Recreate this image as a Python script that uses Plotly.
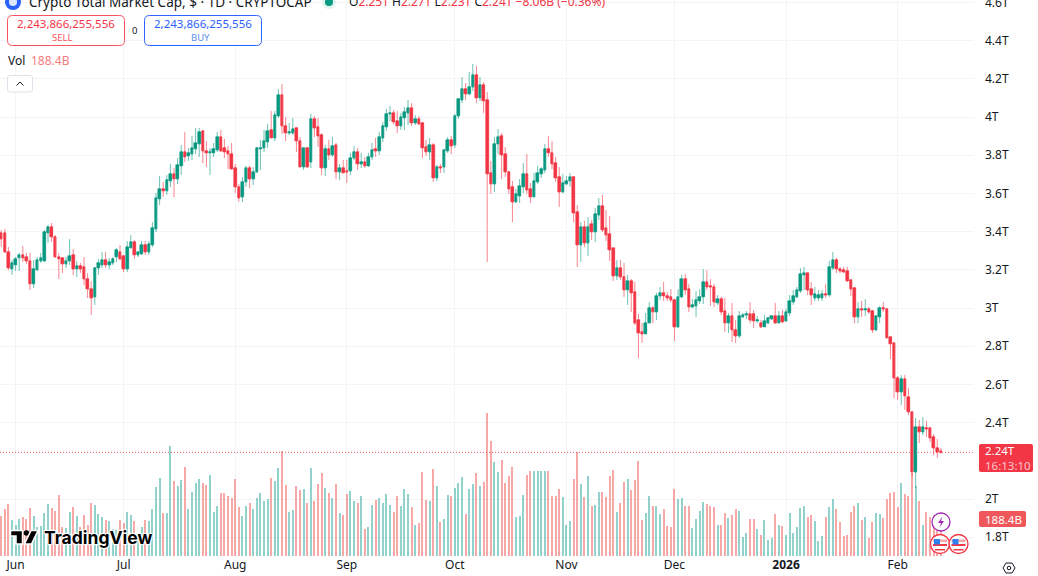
import pandas as pd
import plotly.graph_objects as go

START_DATE = "2025-05-28"

OPEN = [
3.393,3.393,3.293,3.204,3.225,3.262,3.278,3.267,3.246,3.126,
3.199,3.246,3.246,3.393,3.424,3.372,3.267,3.262,3.230,3.246,
3.278,3.204,3.220,3.215,3.152,3.099,3.058,3.209,3.225,3.251,
3.225,3.236,3.267,3.293,3.272,3.204,3.314,3.346,3.278,3.283,
3.330,3.293,3.330,3.414,3.571,3.623,3.613,3.665,3.702,3.675,
3.744,3.817,3.796,3.806,3.833,3.859,3.927,3.822,3.812,3.812,
3.827,3.895,3.838,3.822,3.806,3.733,3.634,3.581,3.660,3.733,
3.675,3.712,3.833,3.838,3.869,3.932,3.890,4.005,4.115,3.953,
3.916,3.916,3.942,3.874,3.738,3.838,3.764,3.990,3.948,3.906,
3.733,3.833,3.801,3.853,3.712,3.733,3.717,3.717,3.785,3.817,
3.754,3.764,3.744,3.791,3.833,3.822,3.890,3.948,4.016,4.021,
3.979,3.953,3.995,4.021,4.047,3.969,3.990,3.969,3.843,3.817,
3.853,3.681,3.738,3.738,3.822,3.880,3.853,4.005,4.089,4.147,
4.120,4.157,4.220,4.100,4.168,4.089,3.707,3.649,3.859,3.901,
3.806,3.712,3.634,3.555,3.586,3.634,3.702,3.623,3.581,3.660,
3.702,3.723,3.833,3.812,3.759,3.686,3.607,3.649,3.665,3.686,
3.503,3.330,3.424,3.340,3.440,3.398,3.487,3.534,3.419,3.387,
3.314,3.168,3.209,3.162,3.094,3.141,3.084,2.937,2.874,2.864,
2.921,3.000,2.979,3.063,3.079,3.063,3.058,3.042,2.901,3.058,
3.152,3.099,3.005,3.010,3.037,3.058,3.136,3.115,3.110,3.026,
3.047,2.984,2.921,2.958,2.885,2.853,2.953,2.963,2.969,2.969,
2.932,2.921,2.901,2.921,2.942,2.958,2.921,2.958,2.932,2.974,
3.031,3.058,3.089,3.173,3.183,3.099,3.052,3.052,3.052,3.073,
3.068,3.209,3.251,3.204,3.199,3.194,3.147,3.105,2.953,2.995,
2.990,2.995,2.984,2.885,2.953,3.000,2.995,2.848,2.817,2.633,
2.560,2.628,2.534,2.455,2.141,2.377,2.351,2.372,2.372,2.325,
2.267,2.251]

HIGH = [
3.408,3.414,3.319,3.251,3.267,3.288,3.325,3.288,3.288,3.251,
3.267,3.288,3.408,3.435,3.445,3.382,3.288,3.267,3.267,3.361,
3.309,3.246,3.236,3.267,3.183,3.141,3.215,3.257,3.293,3.293,
3.262,3.267,3.314,3.330,3.278,3.351,3.382,3.356,3.298,3.351,
3.351,3.351,3.450,3.602,3.691,3.660,3.696,3.754,3.733,3.785,
3.853,3.922,3.838,3.901,3.942,3.942,3.932,3.874,3.838,3.864,
3.922,3.932,3.885,3.848,3.864,3.754,3.649,3.686,3.744,3.744,
3.738,3.843,3.880,3.932,3.963,4.031,4.031,4.147,4.173,4.000,
3.969,3.995,3.948,3.895,3.838,3.843,4.016,4.005,3.995,3.916,
3.853,3.880,3.895,3.864,3.754,3.775,3.775,3.812,3.848,3.838,
3.812,3.791,3.812,3.864,3.890,3.922,3.974,4.042,4.058,4.037,
4.031,4.021,4.052,4.089,4.073,4.010,4.005,3.974,3.880,3.890,
3.864,3.749,3.754,3.833,3.895,3.901,4.016,4.100,4.209,4.178,
4.236,4.278,4.267,4.209,4.183,4.131,3.770,3.895,3.937,3.916,
3.843,3.717,3.665,3.623,3.675,3.759,3.806,3.655,3.707,3.744,
3.738,3.859,3.901,3.874,3.791,3.738,3.702,3.691,3.707,3.691,
3.539,3.450,3.456,3.476,3.461,3.524,3.576,3.592,3.513,3.482,
3.314,3.251,3.251,3.236,3.173,3.152,3.136,2.969,2.921,2.974,
3.031,3.010,3.079,3.110,3.136,3.084,3.099,3.047,3.099,3.173,
3.178,3.126,3.047,3.089,3.099,3.204,3.199,3.152,3.126,3.068,
3.058,3.052,2.974,3.026,2.937,2.984,2.974,2.984,3.031,2.990,
2.958,2.937,2.963,2.953,2.963,3.026,2.984,2.990,2.995,3.068,
3.094,3.110,3.209,3.215,3.183,3.136,3.110,3.094,3.094,3.126,
3.246,3.293,3.262,3.215,3.215,3.215,3.152,3.110,3.031,3.037,
3.047,3.005,2.990,2.963,3.010,3.031,3.000,2.853,2.817,2.644,
2.649,2.649,2.581,2.461,2.424,2.414,2.429,2.409,2.377,2.340,
2.314,2.267]

LOW = [
3.319,3.288,3.199,3.173,3.194,3.194,3.241,3.230,3.094,3.105,
3.194,3.236,3.241,3.340,3.346,3.262,3.152,3.183,3.209,3.225,
3.173,3.162,3.183,3.120,3.052,2.963,3.016,3.173,3.209,3.209,
3.204,3.225,3.241,3.251,3.188,3.188,3.314,3.257,3.267,3.278,
3.278,3.278,3.319,3.398,3.539,3.581,3.592,3.634,3.581,3.649,
3.696,3.764,3.770,3.775,3.806,3.791,3.759,3.738,3.696,3.791,
3.817,3.817,3.785,3.728,3.723,3.602,3.555,3.555,3.634,3.628,
3.644,3.707,3.723,3.817,3.838,3.890,3.874,3.995,3.911,3.874,
3.906,3.906,3.817,3.738,3.723,3.733,3.733,3.895,3.843,3.696,
3.691,3.775,3.791,3.675,3.670,3.707,3.655,3.696,3.775,3.723,
3.733,3.733,3.738,3.775,3.791,3.801,3.869,3.927,3.979,3.963,
3.916,3.932,3.932,3.958,3.953,3.958,3.958,3.785,3.796,3.775,
3.660,3.665,3.707,3.707,3.812,3.806,3.838,3.990,4.073,4.089,
4.115,4.136,4.073,4.084,4.021,3.241,3.597,3.607,3.806,3.675,
3.686,3.597,3.450,3.550,3.550,3.602,3.597,3.550,3.581,3.649,
3.681,3.707,3.791,3.728,3.660,3.529,3.602,3.644,3.634,3.450,
3.215,3.241,3.319,3.272,3.356,3.346,3.461,3.398,3.351,3.246,
3.141,3.147,3.147,3.058,3.016,2.979,2.911,2.738,2.817,2.864,
2.921,2.921,2.937,3.042,3.037,3.037,3.031,2.827,2.895,3.052,
3.068,2.979,3.000,2.953,3.021,3.021,3.094,3.010,3.005,3.016,
2.963,2.874,2.869,2.822,2.817,2.843,2.948,2.942,2.921,2.895,
2.921,2.895,2.901,2.916,2.937,2.916,2.921,2.921,2.927,2.958,
3.016,3.052,3.079,3.094,3.068,3.016,3.037,3.037,3.037,3.052,
3.058,3.199,3.183,3.183,3.183,3.136,3.063,2.921,2.921,2.953,
2.958,2.969,2.869,2.880,2.921,2.979,2.843,2.733,2.529,2.518,
2.492,2.466,2.440,2.120,2.058,2.293,2.335,2.325,2.298,2.230,
2.215,2.236]

CLOSE = [
3.361,3.293,3.209,3.236,3.257,3.278,3.262,3.246,3.126,3.204,
3.251,3.262,3.398,3.424,3.372,3.267,3.257,3.230,3.246,3.272,
3.204,3.220,3.204,3.152,3.099,3.052,3.209,3.236,3.251,3.225,
3.241,3.257,3.304,3.257,3.204,3.319,3.346,3.278,3.293,3.330,
3.293,3.335,3.419,3.576,3.623,3.613,3.670,3.702,3.675,3.749,
3.817,3.791,3.812,3.838,3.864,3.922,3.822,3.812,3.817,3.833,
3.895,3.822,3.817,3.806,3.728,3.634,3.576,3.660,3.733,3.675,
3.712,3.838,3.838,3.874,3.927,3.890,4.010,4.115,3.953,3.916,
3.922,3.937,3.874,3.738,3.838,3.738,3.990,3.942,3.901,3.733,
3.833,3.801,3.848,3.712,3.733,3.707,3.712,3.785,3.817,3.754,
3.764,3.744,3.791,3.827,3.822,3.895,3.953,4.016,4.021,3.974,
3.953,4.000,4.026,4.047,3.969,3.990,3.963,3.838,3.817,3.853,
3.681,3.738,3.733,3.827,3.880,3.848,4.005,4.094,4.147,4.120,
4.157,4.220,4.100,4.168,4.084,3.702,3.649,3.859,3.895,3.801,
3.712,3.623,3.555,3.597,3.639,3.702,3.618,3.581,3.665,3.707,
3.728,3.833,3.812,3.754,3.681,3.607,3.655,3.665,3.686,3.497,
3.330,3.424,3.340,3.424,3.398,3.492,3.534,3.408,3.382,3.304,
3.168,3.209,3.162,3.094,3.141,3.079,2.921,2.869,2.864,2.921,
3.000,2.979,3.063,3.079,3.063,3.052,3.042,2.901,3.058,3.152,
3.094,3.005,3.016,3.042,3.058,3.136,3.110,3.110,3.031,3.047,
2.979,2.921,2.958,2.885,2.853,2.958,2.963,2.969,2.937,2.932,
2.937,2.901,2.932,2.948,2.958,2.921,2.958,2.927,2.979,3.037,
3.063,3.094,3.178,3.183,3.094,3.068,3.073,3.068,3.073,3.068,
3.215,3.251,3.204,3.194,3.188,3.141,3.099,2.953,2.995,2.990,
2.995,2.979,2.885,2.958,3.000,2.995,2.843,2.812,2.633,2.560,
2.628,2.540,2.455,2.141,2.377,2.351,2.377,2.367,2.319,2.267,
2.246,2.244]

VOLUME_B = [
204,240,267,185,160,190,199,187,245,204,
148,153,221,264,245,231,309,150,145,223,
247,204,148,209,156,272,258,213,196,182,
177,139,134,185,168,226,209,177,114,146,
182,177,241,350,398,218,218,559,384,355,
389,452,241,325,371,393,371,360,411,223,
252,320,320,304,296,394,247,204,255,269,
238,296,320,282,292,398,381,447,536,360,
223,233,355,338,343,269,447,279,366,422,
347,320,296,366,218,209,316,332,281,270,
306,138,148,262,284,294,270,316,260,224,
306,252,340,316,248,158,168,427,284,281,
444,354,173,187,311,303,345,372,400,216,
340,367,422,354,377,726,583,478,427,491,
372,408,454,197,202,308,413,432,432,432,
432,432,432,303,303,340,298,156,179,391,
529,367,298,408,257,262,326,326,298,405,
437,224,270,377,391,335,386,483,184,219,
303,257,257,214,238,151,146,340,289,294,
252,252,141,187,228,274,265,257,248,156,
160,219,192,211,240,228,97,119,187,187,
136,109,184,82,92,214,160,155,105,219,
119,146,243,252,197,211,179,77,102,197,
248,289,238,173,102,105,224,257,270,184,
201,92,173,219,214,192,289,320,326,248,
371,316,306,422,354,279,160,224,199,209,
150,188.4]

MONTH_TICKS = ["2025-06-01","2025-07-01","2025-08-01","2025-09-01","2025-10-01",
               "2025-11-01","2025-12-01","2026-01-01","2026-02-01"]
MONTH_LABELS = ["Jun","Jul","Aug","Sep","Oct","Nov","Dec","<b>2026</b>","Feb"]
PRICE_TICKS = [1.8,2.0,2.4,2.6,2.8,3.0,3.2,3.4,3.6,3.8,4.0,4.2,4.4,4.6]
PRICE_LABELS = ["1.8T","2T","2.4T","2.6T","2.8T","3T","3.2T","3.4T","3.6T","3.8T","4T","4.2T","4.4T","4.6T"]

TITLE = "Crypto Total Market Cap, $ · 1D · CRYPTOCAP"
QUOTE = "2,243,866,255,556"

W, H = 974.0, 556.0
UP, DOWN = "#089981", "#f23645"
FONT = "Noto Sans"
INK = "#131722"

dates = pd.date_range(START_DATE, periods=len(CLOSE))
vol_colors = ["rgba(38,166,154,0.5)" if c >= o else "rgba(239,83,80,0.5)" for o, c in zip(OPEN, CLOSE)]
body_colors = [UP if c >= o else DOWN for o, c in zip(OPEN, CLOSE)]
body_base = [min(o, c) for o, c in zip(OPEN, CLOSE)]
body_size = [abs(o - c) for o, c in zip(OPEN, CLOSE)]

fig = go.Figure()
fig.add_trace(go.Bar(x=dates, y=VOLUME_B, marker=dict(color=vol_colors, line=dict(width=0)),
                     width=48000000, yaxis="y", hoverinfo="skip", showlegend=False))
fig.add_trace(go.Candlestick(x=dates, open=OPEN, high=HIGH, low=LOW, close=CLOSE, yaxis="y2",
                             increasing=dict(line=dict(color="rgba(8,153,129,0.6)", width=1), fillcolor="rgba(0,0,0,0)"),
                             decreasing=dict(line=dict(color="rgba(242,54,69,0.6)", width=1), fillcolor="rgba(0,0,0,0)"),
                             whiskerwidth=0, showlegend=False))
fig.add_trace(go.Bar(x=dates, y=body_size, base=body_base, yaxis="y2", width=62000000,
                     marker=dict(color=body_colors, line=dict(color=body_colors, width=0.5)),
                     hoverinfo="skip", showlegend=False))


def px(x):
    return x / W


def py(y):
    return 1 - y / H


def P(*pts):
    return " ".join(f"{c}{px(x):.5f},{py(y):.5f}" for c, x, y in pts)


def rrect(x0, y0, x1, y1, r):
    return (f"M{px(x0+r):.5f},{py(y0):.5f} L{px(x1-r):.5f},{py(y0):.5f} Q{px(x1):.5f},{py(y0):.5f} {px(x1):.5f},{py(y0+r):.5f} "
            f"L{px(x1):.5f},{py(y1-r):.5f} Q{px(x1):.5f},{py(y1):.5f} {px(x1-r):.5f},{py(y1):.5f} "
            f"L{px(x0+r):.5f},{py(y1):.5f} Q{px(x0):.5f},{py(y1):.5f} {px(x0):.5f},{py(y1-r):.5f} "
            f"L{px(x0):.5f},{py(y0+r):.5f} Q{px(x0):.5f},{py(y0):.5f} {px(x0+r):.5f},{py(y0):.5f} Z")


shapes = []
annots = []


def path(d, fill="rgba(0,0,0,0)", line=None, lw=1):
    shapes.append(dict(type="path", path=d, xref="paper", yref="paper", fillcolor=fill,
                       line=dict(color=line or "rgba(0,0,0,0)", width=lw if line else 0), layer="above"))


def circle(cx, cy, r, fill="#ffffff", line=None, lw=1):
    shapes.append(dict(type="circle", xref="paper", yref="paper", x0=px(cx-r), x1=px(cx+r), y0=py(cy+r), y1=py(cy-r),
                       fillcolor=fill, line=dict(color=line or "rgba(0,0,0,0)", width=lw if line else 0), layer="above"))


def rect(x0, y0, x1, y1, fill):
    shapes.append(dict(type="rect", xref="paper", yref="paper", x0=px(x0), x1=px(x1), y0=py(y1), y1=py(y0),
                       fillcolor=fill, line=dict(width=0), layer="above"))


def text(x, y, s, size=12, color=INK, anchor="left", family=FONT, **kw):
    annots.append(dict(x=px(x), y=py(y), xref="paper", yref="paper", text=s, showarrow=False, xanchor=anchor,
                       yanchor="middle", font=dict(size=size, color=color, family=family, **kw.pop("font", {})),
                       align=anchor, **kw))


# last price line
shapes.append(dict(type="line", xref="paper", yref="y2", x0=0, x1=1, y0=CLOSE[-1], y1=CLOSE[-1],
                   line=dict(color="rgba(242,54,69,0.8)", width=1, dash="1px,2px"), layer="above"))

# header
circle(13, 2, 8, fill="#2962ff")
circle(13, 2, 4, fill="#dfe7ff")
text(27, 2, TITLE, size=13.5)
circle(329, 2, 7, fill="#dff3ef")
circle(329, 2, 4, fill="#089981")
vals = [("O", "2.25T"), ("H", "2.27T"), ("L", "2.23T"), ("C", "2.24T")]
head = " ".join(f'<span style="color:{INK}">{a}</span>{b}' for a, b in vals) + " −8.06B (−0.36%)"
text(347, 2, head, size=12, color=DOWN)

# sell / buy
path(rrect(7.5, 15.5, 124.5, 45.5, 5), fill="#ffffff", line="#f7525f", lw=1)
path(rrect(144.5, 15.5, 261.5, 45.5, 5), fill="#ffffff", line="#2962ff", lw=1)
text(65.5, 24, QUOTE, size=11.5, color=DOWN, anchor="center")
text(62.5, 37, "SELL", size=9.5, color="#f7525f", anchor="center")
text(203, 24, QUOTE, size=11.5, color="#2962ff", anchor="center")
text(200, 37, "BUY", size=9.5, color="#5b8def", anchor="center")
text(134, 30, "0", size=9.5, anchor="center")

# volume legend
text(6, 61, "Vol", size=12)
text(29, 61, "188.4B", size=12, color="#f77c80")
path(rrect(7.5, 75.5, 32.5, 92, 2.5), fill="#ffffff", line="#e0e3eb", lw=1)
path(P(("M", 16.5, 85.5), ("L", 20, 82), ("L", 23.5, 85.5)), line=INK, lw=1)

# price tags
path(rrect(979, 444, 1033, 472, 2), fill=DOWN)
text(983, 458, '2.24T<br><span style="color:#fbc6cb">16:13:10</span>', size=11.5, color="#ffffff")
path(rrect(979, 511, 1026, 527, 2), fill="#f0575a")
text(983, 519, "188.4B", size=11.5, color="#ffffff")

# TradingView watermark
halo = "#ffffff"
logo = P(("M", 10.5, 530.5), ("L", 22.5, 530.5), ("L", 22.5, 544), ("L", 16, 544), ("L", 16, 536), ("L", 10.5, 536)) + " Z"
path(logo, fill="#000000", line=halo, lw=1.5)
circle(26.5, 533, 2.8, fill="#000000")
path(P(("M", 31, 530.5), ("L", 38, 530.5), ("L", 31.5, 544), ("L", 24.5, 544)) + " Z", fill="#000000", line=halo, lw=1.5)
text(42, 537, "<b>TradingView</b>", size=17.5, color="#000000", family="Inter",
     font=dict(shadow="1px 1px 1px #fff, -1px -1px 1px #fff, 1px -1px 1px #fff, -1px 1px 1px #fff"))

# event icons
circle(941, 522, 9, fill="#ffffff", line="#9c27b0", lw=1.3)
path(P(("M", 942.5, 516.5), ("L", 938, 523), ("L", 941, 523), ("L", 939.5, 527.5), ("L", 944, 521), ("L", 941, 521)) + " Z", fill="#9c27b0")
for cx in (940, 958.5):
    circle(cx, 544, 9.5, fill="#ffffff", line="#f23645", lw=1.3)
    rect(cx-7, 539.5, cx+7, 542, "#f7a9a7")
    rect(cx-7, 544, cx+7, 546, "#f23645")
    rect(cx-5, 549, cx+5, 550.5, "#f23645")
    rect(cx-6, 539, cx, 544.5, "#2f80ed")

# settings icon
path(P(("M", 1003, 568), ("L", 1006, 563), ("L", 1012, 563), ("L", 1015, 568), ("L", 1012, 573), ("L", 1006, 573)) + " Z",
     fill="#ffffff", line=INK, lw=1)
circle(1009, 568, 1.8, fill="#ffffff", line=INK, lw=1)

fig.update_layout(
    width=1038, height=576, autosize=False,
    margin=dict(l=0, r=64, t=0, b=20, autoexpand=False),
    paper_bgcolor="#ffffff", plot_bgcolor="#ffffff",
    font=dict(family=FONT, size=12, color=INK),
    showlegend=False, bargap=0,
    xaxis=dict(type="date", range=["2025-05-27 16:00", "2026-02-22 05:00"], tickmode="array",
               tickvals=MONTH_TICKS, ticktext=MONTH_LABELS, showgrid=True, gridcolor="#f3f4f6", gridwidth=1,
               zeroline=False, showline=False, ticks="", tickfont=dict(size=12, color=INK),
               rangeslider=dict(visible=False), fixedrange=True, automargin=False),
    yaxis=dict(range=[0, 2830], visible=False, showgrid=False, fixedrange=True),
    yaxis2=dict(overlaying="y", side="right", range=[1.7016, 4.6126], tickmode="array",
                tickvals=PRICE_TICKS, ticktext=PRICE_LABELS, showgrid=True, gridcolor="#f3f4f6", gridwidth=1,
                zeroline=False, showline=False, ticks="", ticklabelstandoff=10, ticklabeloverflow="allow",
                automargin=False, tickfont=dict(size=12, color=INK), fixedrange=True),
    shapes=shapes, annotations=annots,
)

fig.write_html("out.html", config=dict(displayModeBar=False),
               post_script="document.body.style.margin='0';document.body.style.overflow='hidden';")
